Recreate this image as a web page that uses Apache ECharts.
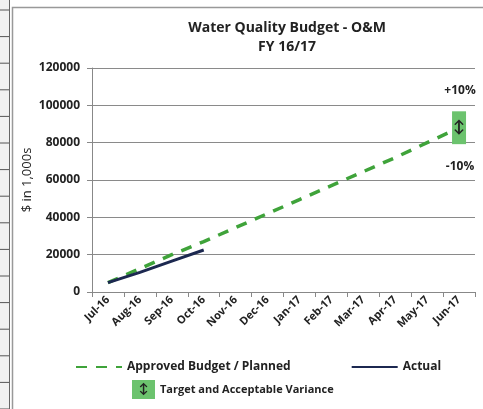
<!DOCTYPE html>
<html>
<head>
<meta charset="utf-8">
<script src="https://cdn.jsdelivr.net/npm/echarts@6/dist/echarts.min.js"></script>
<style>
  html, body { margin: 0; padding: 0; background: #fff; }
  #chart { width: 483px; height: 409px; }
</style>
</head>
<body>
<div id="chart"></div>
<script>
// 月份
var months = ['Jul-16', 'Aug-16', 'Sep-16', 'Oct-16', 'Nov-16', 'Dec-16',
  'Jan-17', 'Feb-17', 'Mar-17', 'Apr-17', 'May-17', 'Jun-17'];
// 预算 / 计划
var planned = [5000, 12500, 20000, 27000, 34500, 42000, 49500, 57000, 64500, 72000, 80000, 88000];
// 实际
var actual = [5000, 10500, 16500, 22500];
// 目标区间 (Jun-17, 下限, 上限)
var variance = [[11, 79200, 96800]];
var varianceLabels = ['+10%', '-10%'];
var varianceLabelValues = [108000, 67000];

var FONT = '"Open Sans", Lato, sans-serif';
var GREEN = '#3fa33a';
var NAVY = '#1c2850';

var myChart = echarts.init(document.getElementById('chart'));

// 左边表格残留的横线
var leftLines = [];
for (var i = 0; i < 16; i++) {
    leftLines.push({
        type: 'line',
        shape: { x1: 0, y1: 10 + i * 26.6, x2: 9, y2: 10 + i * 26.6 },
        style: { stroke: '#555', lineWidth: 1 }
    });
}

var option = {
    animation: false,
    graphic: [
        { type: 'rect', shape: { x: 0, y: 0, width: 9, height: 409 }, style: { fill: '#f1f1f1' } },
        { type: 'line', shape: { x1: 9.5, y1: 0, x2: 9.5, y2: 409 }, style: { stroke: '#666', lineWidth: 1 } }
    ].concat(leftLines).concat([
        { type: 'rect', shape: { x: 12.5, y: 7.5, width: 480, height: 410 }, style: { fill: 'none', stroke: '#999', lineWidth: 1.5 } },
        {
            type: 'text', x: 287, y: 19,
            style: {
                text: 'Water Quality Budget - O&M\nFY 16/17',
                font: 'bold 14px ' + FONT, fill: '#222',
                textAlign: 'center', lineHeight: 19
            }
        },
        {
            type: 'text', x: 143.5, y: 389.5, z: 100,
            style: { text: '↕', font: 'bold 13px ' + FONT, fill: '#222', textAlign: 'center', textVerticalAlign: 'middle' }
        }
    ]),
    legend: [
        {
            data: ['Approved Budget / Planned', 'Actual'],
            left: 70, top: 356, itemWidth: 46, itemHeight: 10, itemGap: 60,
            itemStyle: { opacity: 0 },
            textStyle: { fontFamily: FONT, fontSize: 12, fontWeight: 'bold', color: '#222' }
        },
        {
            data: ['Target and Acceptable Variance'],
            left: 127, top: 375, itemWidth: 23, itemHeight: 19, icon: 'rect', itemGap: 5,
            textStyle: { fontFamily: FONT, fontSize: 11, fontWeight: 'bold', color: '#222' }
        }
    ],
    grid: { left: 92, right: 8, top: 68, bottom: 117 },
    xAxis: {
        type: 'category',
        data: months,
        boundaryGap: true,
        axisLine: { lineStyle: { color: '#888' } },
        axisTick: { show: true, alignWithLabel: false, lineStyle: { color: '#888' } },
        axisLabel: { rotate: 45, color: '#222', fontFamily: FONT, fontSize: 11, fontWeight: 'bold', margin: 6, interval: 0 }
    },
    yAxis: {
        type: 'value',
        min: 0, max: 120000, interval: 20000,
        name: '$ in 1,000s',
        nameLocation: 'middle',
        nameGap: 58,
        nameMoveOverlap: false,
        nameTextStyle: { fontFamily: FONT, fontSize: 13, color: '#222' },
        axisLine: { show: true, lineStyle: { color: '#888' } },
        axisTick: { show: true, lineStyle: { color: '#888' } },
        axisLabel: {
            color: '#222', fontFamily: FONT, fontSize: 12, fontWeight: 'bold', margin: 12,
            formatter: function (v) { return String(v); }
        },
        splitLine: { lineStyle: { color: '#8a8a8a' } }
    },
    series: [
        {
            name: 'Approved Budget / Planned',
            type: 'line',
            data: planned,
            symbol: 'none',
            lineStyle: { color: GREEN, width: 3.5, type: [11, 9] },
            itemStyle: { color: GREEN },
            z: 2
        },
        {
            name: 'Actual',
            type: 'line',
            data: actual,
            symbol: 'none',
            lineStyle: { color: NAVY, width: 3 },
            itemStyle: { color: NAVY },
            z: 3
        },
        {
            name: 'Target and Acceptable Variance',
            type: 'custom',
            data: variance,
            itemStyle: { color: '#6cc36e' },
            renderItem: function (params, api) {
                var lo = api.coord([api.value(0), api.value(1)]);
                var hi = api.coord([api.value(0), api.value(2)]);
                var w = 14;
                var children = [
                    {
                        type: 'rect',
                        shape: { x: lo[0] - w / 2, y: hi[1], width: w, height: lo[1] - hi[1] },
                        style: { fill: '#6cc36e' }
                    },
                    {
                        type: 'text',
                        style: {
                            text: '↕', x: lo[0], y: (lo[1] + hi[1]) / 2,
                            textAlign: 'center', textVerticalAlign: 'middle',
                            font: 'bold 16px ' + FONT, fill: '#222'
                        }
                    }
                ];
                for (var k = 0; k < varianceLabels.length; k++) {
                    var p = api.coord([api.value(0), varianceLabelValues[k]]);
                    children.push({
                        type: 'text',
                        style: {
                            text: varianceLabels[k], x: p[0] + 1, y: p[1],
                            textAlign: 'center', textVerticalAlign: 'middle',
                            font: 'bold 12px ' + FONT, fill: '#222'
                        }
                    });
                }
                return { type: 'group', children: children };
            },
            z: 4
        }
    ]
};

myChart.setOption(option);
</script>
</body>
</html>
